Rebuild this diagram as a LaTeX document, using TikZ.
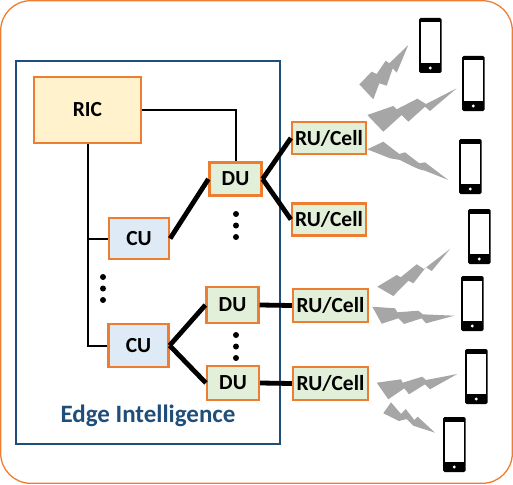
\documentclass[tikz,border=0pt]{standalone}
\usepackage{fontspec}
\setmainfont{Carlito}
\definecolor{boxorange}{HTML}{ED7D31}
\definecolor{edgeblue}{HTML}{1F4E79}
\definecolor{ricfill}{HTML}{FFF2CC}
\definecolor{cufill}{HTML}{DEEAF6}
\definecolor{dufill}{HTML}{E2EFD9}

\begin{document}
\begin{tikzpicture}[x=1pt,y=-1pt,every node/.style={font=\fontsize{21.5}{24}\selectfont\bfseries},
  unit/.style={draw=boxorange,line width=2.2pt,inner sep=0pt},
  cu/.style={unit,fill=cufill,minimum width=60pt,minimum height=41pt},
  du/.style={unit,fill=dufill,minimum width=52pt,minimum height=33pt},
  ru/.style={unit,fill=dufill,minimum width=74pt,minimum height=32pt},
  link/.style={line width=2pt},
  fronthaul/.style={line width=4.8pt},
  bolt/.style={fill=black!35},
  phone/.pic={
    \fill[black,rounded corners=1.5pt] (0,0) rectangle (22.5,55);
    \fill[white] (1.5,4.5) rectangle (21,45);
    \fill[white] (11.25,50) circle (1.7);}]
  \useasboundingbox (0,0) rectangle (513,484);
  \draw[boxorange,line width=1.3pt,rounded corners=30pt] (.7,.7) rectangle (512.3,483.3);
  \draw[edgeblue,line width=2pt] (16,61) rectangle (280,444);
  \node[font=\fontsize{25}{28}\selectfont\bfseries,text=edgeblue] (edge) at (148,415.5) {Edge Intelligence};

  \node[unit,fill=ricfill,minimum width=107pt,minimum height=66pt] (ric) at (87.5,110) {RIC};
  \node[cu] (cua) at (139,238.5) {CU};
  \node[cu,minimum height=43pt] (cub) at (138.5,345.5) {CU};
  \node[du] (dua) at (235.5,179) {DU};
  \node[du,minimum height=36pt] (dub) at (232.5,305) {DU};
  \node[du,minimum height=34pt] (duc) at (233,383) {DU};
  \node[ru] (rua) at (329,138) {RU/Cell};
  \node[ru] (rub) at (329,219.5) {RU/Cell};
  \node[ru,minimum width=75pt,minimum height=33pt] (ruc) at (330.5,305.5) {RU/Cell};
  \node[ru,minimum width=75pt,minimum height=33pt] (rud) at (330.5,383.5) {RU/Cell};

  % control links
  \draw[link] (ric.east) -| (dua.north);
  \draw[link] (ric.south) |- (cub.west);
  \draw[link] (ric.south |- cua.west) -- (cua.west);

  % fronthaul
  \draw[fronthaul] (cua.east) -- (dua.west);
  \draw[fronthaul] (dua.east) -- (rua.west);
  \draw[fronthaul] (dua.east) -- (rub.west);
  \draw[fronthaul] (cub.east) -- (dub.west);
  \draw[fronthaul] (cub.east) -- (duc.west);
  \draw[fronthaul] (dub.east) -- (ruc.west);
  \draw[fronthaul] (duc.east) -- (rud.west);

  % dots
  \foreach \x/\y in {236/214,236/225.5,236/237,103/277,103/288.5,103/300,236/335,236/346.5,236/358}
    \fill (\x,\y) circle (3);

  % radio
  \fill[bolt] (408.3,45) -- (389.3,63.3) -- (385.7,60.7) -- (376.7,74) -- (371.7,71.7) -- (359.3,84.3)
    -- (373.3,99.3) -- (379.3,83.3) -- (386.7,85.7) -- (392.7,68.3) -- (396.7,72.7) -- cycle;
  \fill[bolt] (367.3,115) -- (393.3,106) -- (396.7,109.3) -- (417.3,98.7) -- (426,104) -- (456.7,88.3)
    -- (430,111) -- (425,106.7) -- (408.3,121.7) -- (401.7,115) -- (383.3,131.7) -- cycle;
  \fill[bolt] (367.3,149.3) -- (383.3,141.7) -- (399.3,154) -- (405,152.3) -- (419.3,163.3) -- (425,162.3)
    -- (448.3,180) -- (425,170.7) -- (419.3,169.3) -- (413.3,166.7) -- (400,160) -- (390,158.3) -- cycle;
  \fill[bolt] (377.3,286.7) -- (396.7,275) -- (400.7,277.3) -- (416.7,264.3) -- (424,269) -- (450,249)
    -- (431.7,271) -- (426,267.3) -- (413.3,283.3) -- (408.3,280.7) -- (393.3,296) -- cycle;
  \fill[bolt] (372.3,306.7) -- (395,308.3) -- (397.3,312.3) -- (418.3,310.7) -- (422.7,314.3) -- (454.3,315.7)
    -- (426,323.3) -- (421.7,318.3) -- (404,324) -- (398.3,318.3) -- (381.7,323.7) -- cycle;
  \fill[bolt] (376.7,382.7) -- (401,379.3) -- (402.7,382.7) -- (422.3,376.7) -- (426,380) -- (457.3,374)
    -- (430,389.3) -- (425,384.3) -- (409,394.3) -- (404.3,388.3) -- (388.3,399.3) -- cycle;
  \fill[bolt] (383.3,413.3) -- (391,402.3) -- (401,414) -- (405.7,409) -- (414.3,420) -- (417.7,416.7)
    -- (435,432.7) -- (413.3,425.7) -- (406.7,419) -- (399,421) -- cycle;

  \foreach \x/\y in {419/18,462/56,459/139,468/209,461/276,465/349,443/417}
    \pic at (\x,\y) {phone};
\end{tikzpicture}
\end{document}
